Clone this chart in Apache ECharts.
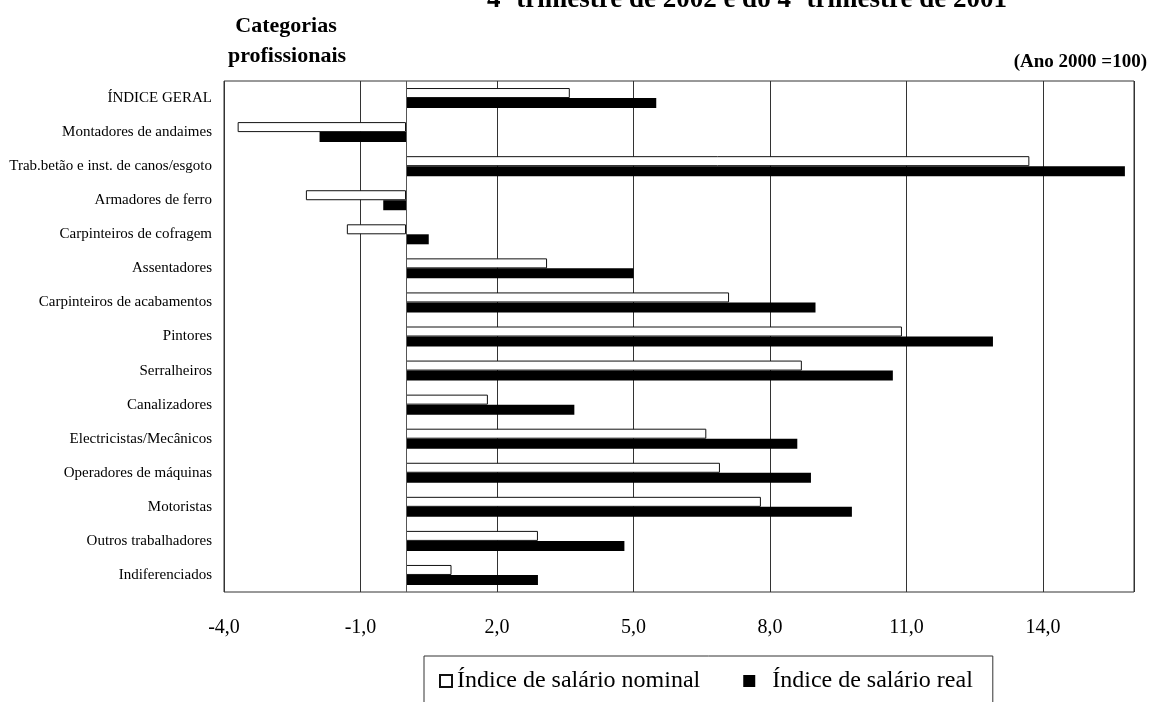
<!DOCTYPE html>
<html>
<head>
<meta charset="utf-8">
<script src="https://cdn.jsdelivr.net/npm/echarts@6/dist/echarts.min.js"></script>
<style>
  html, body { margin: 0; padding: 0; background: #fff; }
  #chart { width: 1167px; height: 702px; }
</style>
</head>
<body>
<div id="chart"></div>
<script>
// Categorias profissionais (de cima para baixo)
const categories = [
  'ÍNDICE GERAL',
  'Montadores de andaimes',
  'Trab.betão e inst. de canos/esgoto',
  'Armadores de ferro',
  'Carpinteiros de cofragem',
  'Assentadores',
  'Carpinteiros de acabamentos',
  'Pintores',
  'Serralheiros',
  'Canalizadores',
  'Electricistas/Mecânicos',
  'Operadores de máquinas',
  'Motoristas',
  'Outros trabalhadores',
  'Indiferenciados'
];

// Variação (%) do índice de salário nominal
const nominal = [3.6, -3.7, 13.7, -2.2, -1.3, 3.1, 7.1, 10.9, 8.7, 1.8, 6.6, 6.9, 7.8, 2.9, 1.0];
// Variação (%) do índice de salário real
const real = [5.5, -1.9, 15.8, -0.5, 0.5, 5.0, 9.0, 12.9, 10.7, 3.7, 8.6, 8.9, 9.8, 4.8, 2.9];

const seriesNames = ['Índice de salário nominal', 'Índice de salário real'];

// Escala do eixo dos valores: marcas -4,0 ... 14,0
const xMin = -4;
const xMax = 16;
const xStep = 3;

const FONT = '"Liberation Serif", "Times New Roman", serif';

const chart = echarts.init(document.getElementById('chart'), null, { renderer: 'canvas' });

chart.setOption({
  animation: false,
  backgroundColor: '#fff',
  textStyle: { fontFamily: FONT, color: '#000' },
  grid: {
    left: 224, right: 33, top: 81, bottom: 110,
    show: true, borderColor: '#333', borderWidth: 1, backgroundColor: 'transparent'
  },
  legend: {
    left: 424, top: 656,
    orient: 'horizontal',
    padding: [13, 20, 30, 15],
    borderColor: '#333', borderWidth: 1,
    itemWidth: 12, itemHeight: 12, itemGap: 43,
    icon: 'rect',
    textStyle: { fontFamily: FONT, fontSize: 24, color: '#000' },
    formatter: name => (name === seriesNames[1] ? '  ' + name : name),
    data: seriesNames
  },
  xAxis: {
    type: 'value',
    min: xMin, max: xMax, interval: xStep,
    axisLine: { show: false },
    axisTick: { show: false },
    splitLine: { show: true, lineStyle: { color: '#333', width: 1 } },
    axisLabel: {
      margin: 26, fontSize: 20, fontFamily: FONT, color: '#000',
      showMaxLabel: false,
      formatter: v => (v === xMax ? '' : v.toFixed(1).replace('.', ','))
    }
  },
  yAxis: {
    type: 'category',
    inverse: true,
    data: categories,
    axisLine: { show: false, onZero: false },
    axisTick: { show: false },
    splitLine: { show: false },
    axisLabel: { margin: 12, fontSize: 15, fontFamily: FONT, color: '#000' }
  },
  series: [
    {
      name: seriesNames[0],
      type: 'bar',
      data: nominal,
      barWidth: 10,
      barGap: '0%',
      itemStyle: { color: '#fff', borderColor: '#111', borderWidth: 1 },
      markLine: {
        silent: true,
        symbol: ['none', 'none'],
        label: { show: false },
        lineStyle: { color: '#555', width: 1, type: 'solid' },
        data: [{ xAxis: 0 }]
      }
    },
    {
      name: seriesNames[1],
      type: 'bar',
      data: real,
      barWidth: 10,
      barGap: '0%',
      itemStyle: { color: '#000' }
    }
  ],
  graphic: [
    {
      type: 'text', x: 747, y: 14,
      style: {
        text: '4º trimestre de 2002 e do 4º trimestre de 2001',
        font: 'bold 27px ' + FONT, fill: '#000',
        textAlign: 'center', textVerticalAlign: 'bottom'
      }
    },
    {
      type: 'text', x: 286, y: 26,
      style: {
        text: 'Categorias', font: 'bold 22px ' + FONT, fill: '#000',
        textAlign: 'center', textVerticalAlign: 'middle'
      }
    },
    {
      type: 'text', x: 287, y: 56,
      style: {
        text: 'profissionais', font: 'bold 22px ' + FONT, fill: '#000',
        textAlign: 'center', textVerticalAlign: 'middle'
      }
    },
    {
      type: 'text', x: 1147, y: 62,
      style: {
        text: '(Ano 2000 =100)', font: 'bold 19px ' + FONT, fill: '#000',
        textAlign: 'right', textVerticalAlign: 'middle'
      }
    },
    {
      type: 'text', x: 1183, y: 633,
      style: {
        text: '%', font: 'bold 20px ' + FONT, fill: '#000',
        textAlign: 'center', textVerticalAlign: 'middle'
      }
    }
  ]
});
</script>
</body>
</html>
